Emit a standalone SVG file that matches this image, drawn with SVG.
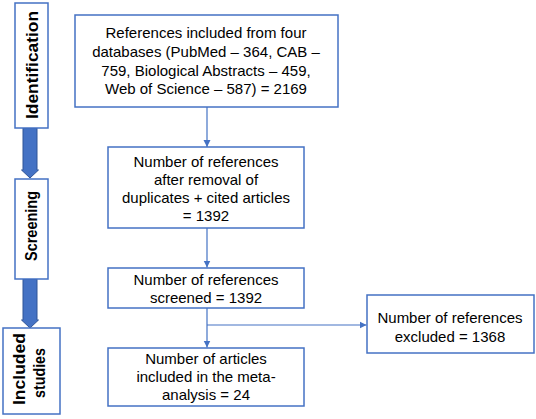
<svg xmlns="http://www.w3.org/2000/svg" width="536" height="419" viewBox="0 0 536 419">
<defs>
<style>
.box{fill:#fff;stroke:#4472C4;stroke-width:1.5}
.t{font-family:"Liberation Sans",Arial,sans-serif;font-size:15px;fill:#000;text-anchor:middle}
.st{font-family:"Liberation Sans",Arial,sans-serif;font-size:17px;font-weight:bold;fill:#000;text-anchor:middle}
.c{fill:none;stroke:#4472C4;stroke-width:1.2}
.big{fill:#4472C4;stroke:#2F5597;stroke-width:1}
</style>
<marker id="ah" markerWidth="8" markerHeight="8" refX="7" refY="4" orient="auto" markerUnits="userSpaceOnUse">
<path d="M0,0.5 L7,4 L0,7.5 Z" fill="#4472C4"/>
</marker>
</defs>
<rect width="536" height="419" fill="#fff"/>
<g id="stage-arrows">
<path class="big" d="M23,128 L37,128 L37,170 L38.5,170 L30,178 L21.5,170 L23,170 Z"/>
<path class="big" d="M23,279 L37,279 L37,320 L38.5,320 L30,328 L21.5,320 L23,320 Z"/>
</g>
<g id="identification">
<rect class="box" x="15" y="3" width="33" height="125"/>
<text class="st" transform="translate(38,65) rotate(-90)" textLength="108" lengthAdjust="spacingAndGlyphs">Identification</text>
</g>
<g id="screening">
<rect class="box" x="15" y="179" width="33" height="100"/>
<text class="st" transform="translate(37,226) rotate(-90)" textLength="70" lengthAdjust="spacingAndGlyphs">Screening</text>
</g>
<g id="included-studies">
<rect class="box" x="3" y="328" width="57" height="86"/>
<text class="st" transform="translate(25,369) rotate(-90)" textLength="72" lengthAdjust="spacingAndGlyphs">Included</text>
<text class="st" transform="translate(45,373) rotate(-90)" textLength="50" lengthAdjust="spacingAndGlyphs">studies</text>
</g>
<g id="connectors">
<line class="c" x1="207" y1="107" x2="207" y2="147" marker-end="url(#ah)"/>
<line class="c" x1="207" y1="228" x2="207" y2="267.5" marker-end="url(#ah)"/>
<line class="c" x1="207" y1="308" x2="207" y2="347.5" marker-end="url(#ah)"/>
<line class="c" x1="207" y1="325" x2="366.5" y2="325" marker-end="url(#ah)"/>
</g>
<g id="box-identified">
<rect class="box" x="75" y="15" width="263" height="92"/>
<text class="t" x="206" y="38">References included from four</text>
<text class="t" x="206" y="57">databases (PubMed – 364, CAB –</text>
<text class="t" x="206" y="76">759, Biological Abstracts – 459,</text>
<text class="t" x="206" y="94">Web of Science – 587) = 2169</text>
</g>
<g id="box-deduplicated">
<rect class="box" x="108" y="147" width="196" height="81"/>
<text class="t" x="206" y="167">Number of references</text>
<text class="t" x="206" y="185">after removal of</text>
<text class="t" x="206" y="203">duplicates + cited articles</text>
<text class="t" x="206" y="221">= 1392</text>
</g>
<g id="box-screened">
<rect class="box" x="108" y="268" width="196" height="40"/>
<text class="t" x="206" y="285">Number of references</text>
<text class="t" x="206" y="303">screened = 1392</text>
</g>
<g id="box-excluded">
<rect class="box" x="367" y="295" width="167" height="58"/>
<text class="t" x="450" y="323">Number of references</text>
<text class="t" x="450" y="342">excluded = 1368</text>
</g>
<g id="box-included">
<rect class="box" x="108" y="348" width="196" height="58"/>
<text class="t" x="206" y="364">Number of articles</text>
<text class="t" x="206" y="382">included in the meta-</text>
<text class="t" x="206" y="400">analysis = 24</text>
</g>
</svg>
